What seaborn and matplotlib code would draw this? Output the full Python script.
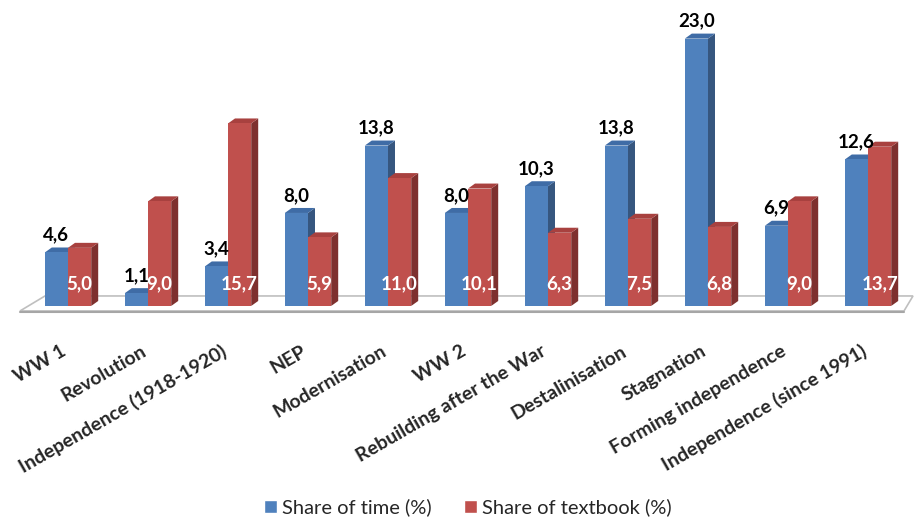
import matplotlib
matplotlib.use("Agg")
import matplotlib.pyplot as plt
from matplotlib.patches import Polygon
from matplotlib.lines import Line2D
from matplotlib.transforms import ScaledTranslation
import seaborn as sns
import pandas as pd

# Periods of history and their shares
periods = ["WW 1", "Revolution", "Independence (1918-1920)", "NEP", "Modernisation",
           "WW 2", "Rebuilding after the War", "Destalinisation", "Stagnation",
           "Forming independence", "Independence (since 1991)"]
time_share = [4.6, 1.1, 3.4, 8.0, 13.8, 8.0, 10.3, 13.8, 23.0, 6.9, 12.6]
textbook_share = [5.0, 9.0, 15.7, 5.9, 11.0, 10.1, 6.3, 7.5, 6.8, 9.0, 13.7]
series_names = ["Share of time (%)", "Share of textbook (%)"]

df = pd.DataFrame({
    "period": periods * 2,
    "share": time_share + textbook_share,
    "series": [series_names[0]] * len(periods) + [series_names[1]] * len(periods),
})

front_colors = ["#4F81BD", "#C0504D"]
top_colors = ["#3F6CA6", "#A8413F"]
side_colors = ["#36567F", "#7E302E"]

sns.set_theme(style="white")
plt.rcParams["font.family"] = ["Lato", "DejaVu Sans"]

W, H, DPI = 915, 517, 100
fig = plt.figure(figsize=(W / DPI, H / DPI), dpi=DPI)
ax_left, ax_right, ax_top, ax_bottom = 28, 908, 20, 323.4
ax = fig.add_axes([ax_left / W, 1 - ax_bottom / H,
                   (ax_right - ax_left) / W, (ax_bottom - ax_top) / H])

sns.barplot(data=df, x="period", y="share", hue="series", palette=front_colors,
            width=0.58, saturation=1, gap=0, legend=False, ax=ax, zorder=3,
            linewidth=0)

ax.set_xlim(-0.5, len(periods) - 0.5)
ax.set_ylim(-1.5, 24.6)

# pixel -> data scale factors for the 3D depth
px_x = (ax_right - ax_left) / (ax.get_xlim()[1] - ax.get_xlim()[0])
px_y = (ax_bottom - ax_top) / (ax.get_ylim()[1] - ax.get_ylim()[0])
dx, dy = 7 / px_x, 5 / px_y

# floor plate
fl_front = -5 / px_y
fl_back = 10 / px_y
x0, x1 = ax.get_xlim()
floor = Polygon([(x0 - 8 / px_x, fl_front), (x1 - 4 / px_x, fl_front),
                 (x1 + 5 / px_x, fl_back), (x0 + 17 / px_x, fl_back)],
                closed=True, facecolor="white", edgecolor="#BFBFBF", lw=1.2,
                zorder=1, clip_on=False)
ax.add_patch(floor)
ax.add_line(Line2D([x0 - 8 / px_x, x1 - 4 / px_x], [fl_front - 1.5 / px_y] * 2,
                   color="#A6A6A6", lw=1.5, zorder=1, clip_on=False))

# top and side faces of each bar
for k, cont in enumerate(ax.containers):
    for bar in cont:
        bx, bw, bh = bar.get_x(), bar.get_width(), bar.get_height()
        top = Polygon([(bx, bh), (bx + bw, bh), (bx + bw + dx, bh + dy), (bx + dx, bh + dy)],
                      closed=True, facecolor=top_colors[k], edgecolor="none",
                      zorder=1.5 + 0.2 * k)
        side = Polygon([(bx + bw, 0), (bx + bw + dx, dy), (bx + bw + dx, bh + dy), (bx + bw, bh)],
                       closed=True, facecolor=side_colors[k], edgecolor="none",
                       zorder=1.5 + 0.2 * k)
        ax.add_patch(side)
        ax.add_patch(top)

# value labels
for bar, v in zip(ax.containers[0], time_share):
    ax.annotate(f"{v:.1f}".replace(".", ","), (bar.get_x() + bar.get_width() / 2, v),
                xytext=(0, 6.5), textcoords="offset points", ha="center", va="bottom",
                fontsize=13.5, fontweight="bold", color="black", zorder=5)
for bar, v in zip(ax.containers[1], textbook_share):
    ax.text(bar.get_x() + bar.get_width() / 2, 1.9, f"{v:.1f}".replace(".", ","),
            ha="center", va="center", fontsize=13.5, fontweight="bold",
            color="white", zorder=5)

ax.set_xticks(range(len(periods)))
ax.set_xticklabels(periods, rotation=30, ha="right", va="center",
                   rotation_mode="anchor", fontsize=14, fontweight="bold")
ax.tick_params(axis="x", length=0, pad=19)
shift = ScaledTranslation(-3 / DPI, 0, fig.dpi_scale_trans)
for lab in ax.get_xticklabels():
    lab.set_transform(lab.get_transform() + shift)
ax.set_yticks([])
ax.set_xlabel("")
ax.set_ylabel("")
for s in ax.spines.values():
    s.set_visible(False)

handles = [plt.Rectangle((0, 0), 1, 1, facecolor=c) for c in front_colors]
fig.legend(handles, series_names, loc="center", bbox_to_anchor=(0.511, 0.018),
           ncol=2, frameon=False, fontsize=14.5, handlelength=0.65, handleheight=0.65,
           handletextpad=0.25, columnspacing=1.6)

fig.savefig("out.png", dpi=DPI)
